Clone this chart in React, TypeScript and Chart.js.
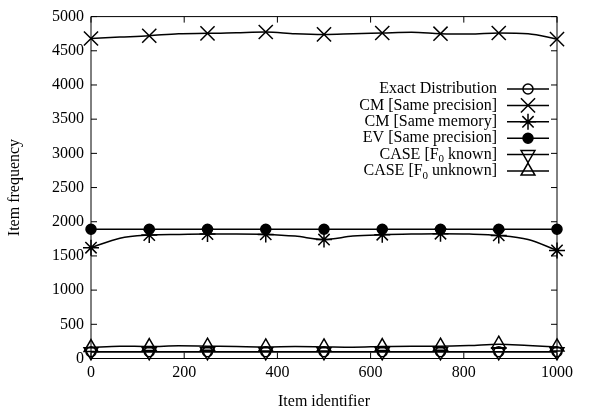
import React, { useEffect, useRef } from 'react';
import { Chart, registerables } from 'chart.js';
import { drawPoint } from 'chart.js/helpers';

Chart.register(...registerables);

// ---- data ----
const itemIds = [0, 62, 125, 188, 250, 312, 375, 438, 500, 562, 625, 688, 750, 812, 875, 938, 1000];
const exactDistribution = [100, 100, 100, 100, 100, 100, 100, 100, 100, 100, 100, 100, 100, 100, 100, 100, 100];
const cmSamePrecision = [4680, 4700, 4720, 4750, 4755, 4765, 4775, 4750, 4740, 4750, 4760, 4770, 4750, 4745, 4760, 4750, 4670];
const cmSameMemory = [1620, 1760, 1805, 1815, 1820, 1820, 1815, 1790, 1740, 1790, 1810, 1820, 1825, 1820, 1800, 1740, 1580];
const evSamePrecision = [1890, 1890, 1890, 1890, 1890, 1890, 1890, 1890, 1890, 1890, 1890, 1890, 1890, 1890, 1890, 1890, 1890];
const caseF0Known = [98, 98, 98, 98, 98, 98, 98, 98, 98, 98, 98, 98, 98, 98, 98, 98, 98];
const caseF0Unknown = [160, 180, 175, 185, 180, 175, 170, 175, 170, 165, 175, 180, 180, 190, 210, 190, 170];
const xTickValues = [0, 200, 400, 600, 800, 1000];
const yTickValues = [0, 500, 1000, 1500, 2000, 2500, 3000, 3500, 4000, 4500, 5000];
const xTitle = 'Item identifier';
const yTitle = 'Item frequency';

const FONT = "'Liberation Serif', 'Times New Roman', serif";

type Series = {
  label: string[]; // [before subscript, subscript, after subscript]
  data: number[];
  pointStyle: string;
  rotation: number;
  radius: number;
  filled: boolean;
};

const series: Series[] = [
  { label: ['Exact Distribution', '', ''], data: exactDistribution, pointStyle: 'circle', rotation: 0, radius: 5, filled: false },
  { label: ['CM [Same precision]', '', ''], data: cmSamePrecision, pointStyle: 'crossRot', rotation: 0, radius: 10, filled: false },
  { label: ['CM [Same memory]', '', ''], data: cmSameMemory, pointStyle: 'star', rotation: 0, radius: 8, filled: false },
  { label: ['EV [Same precision]', '', ''], data: evSamePrecision, pointStyle: 'circle', rotation: 0, radius: 5, filled: true },
  { label: ['CASE [F', '0', ' known]'], data: caseF0Known, pointStyle: 'triangle', rotation: 180, radius: 8, filled: false },
  { label: ['CASE [F', '0', ' unknown]'], data: caseF0Unknown, pointStyle: 'triangle', rotation: 0, radius: 8, filled: false },
];

const frame = {
  id: 'gnuplotFrame',
  afterDatasetsDraw(chart: any) {
    const { ctx, chartArea } = chart;
    const { left, right, top, bottom } = chartArea;
    const xs = chart.scales.x;
    const ys = chart.scales.y;
    const tl = 6;
    ctx.save();
    ctx.strokeStyle = '#000';
    ctx.lineWidth = 1;
    ctx.beginPath();
    ctx.rect(left, top, right - left, bottom - top);
    for (const v of yTickValues) {
      const y = ys.getPixelForValue(v);
      ctx.moveTo(left, y); ctx.lineTo(left + tl, y);
      ctx.moveTo(right, y); ctx.lineTo(right - tl, y);
    }
    for (const v of xTickValues) {
      const x = xs.getPixelForValue(v);
      ctx.moveTo(x, bottom); ctx.lineTo(x, bottom - tl);
      ctx.moveTo(x, top); ctx.lineTo(x, top + tl);
    }
    ctx.stroke();

    // legend
    const textRight = 497;
    const lx1 = 507;
    const lx2 = 549;
    const y0 = 89;
    const dy = 16.4;
    ctx.textBaseline = 'middle';
    ctx.fillStyle = '#000';
    series.forEach((s, i) => {
      const y = y0 + i * dy;
      const mainFont = `16px ${FONT}`;
      const subFont = `11px ${FONT}`;
      ctx.font = mainFont;
      const w0 = ctx.measureText(s.label[0]).width;
      const w2 = ctx.measureText(s.label[2]).width;
      ctx.font = subFont;
      const w1 = ctx.measureText(s.label[1]).width;
      let x = textRight - (w0 + w1 + w2);
      ctx.textAlign = 'left';
      ctx.font = mainFont;
      ctx.fillText(s.label[0], x, y);
      x += w0;
      if (s.label[1]) {
        ctx.font = subFont;
        ctx.fillText(s.label[1], x, y + 5);
        x += w1;
        ctx.font = mainFont;
        ctx.fillText(s.label[2], x, y);
      }
      ctx.beginPath();
      ctx.lineWidth = 1.5;
      ctx.moveTo(lx1, y); ctx.lineTo(lx2, y);
      ctx.stroke();
      ctx.lineWidth = 1.5;
      ctx.fillStyle = s.filled ? '#000' : 'rgba(0,0,0,0)';
      drawPoint(ctx, { pointStyle: s.pointStyle, rotation: s.rotation, radius: s.radius, borderWidth: 1.5 } as any, (lx1 + lx2) / 2, y);
      ctx.fillStyle = '#000';
    });
    ctx.restore();
  },
};

export default function App() {
  const ref = useRef<HTMLCanvasElement>(null);
  useEffect(() => {
    if (!ref.current) return;
    const chart = new Chart(ref.current, {
      type: 'line',
      data: {
        datasets: series.map((s) => ({
          label: s.label.join(''),
          data: itemIds.map((x, i) => ({ x, y: s.data[i] })),
          borderColor: '#000',
          borderWidth: 1.5,
          backgroundColor: s.filled ? '#000' : 'rgba(0,0,0,0)',
          pointBackgroundColor: s.filled ? '#000' : 'rgba(0,0,0,0)',
          pointBorderColor: '#000',
          pointBorderWidth: 1.5,
          pointStyle: s.pointStyle as any,
          pointRotation: s.rotation,
          pointRadius: (c: any) => (c.dataIndex % 2 === 0 ? s.radius : 0),
          pointHoverRadius: 0,
          cubicInterpolationMode: 'monotone' as const,
          fill: false,
          clip: false as any,
        })),
      },
      options: {
        responsive: false,
        animation: false,
        layout: { padding: { top: 11.5, right: 37, left: 0, bottom: 0 } },
        plugins: { legend: { display: false }, tooltip: { enabled: false } },
        scales: {
          x: {
            type: 'linear',
            min: 0,
            max: 1000,
            afterBuildTicks: (sc: any) => { sc.ticks = xTickValues.map((v) => ({ value: v })); },
            afterFit: (sc: any) => { sc.height = 57.5; },
            grid: { display: false, drawTicks: false },
            border: { display: false },
            ticks: {
              color: '#000',
              font: { family: FONT, size: 16 },
              padding: 5,
              maxRotation: 0,
              callback: (v: any) => String(v),
            },
            title: {
              display: true,
              text: xTitle,
              color: '#000',
              font: { family: FONT, size: 16 },
              padding: { top: 0, bottom: 5 },
            },
          },
          y: {
            type: 'linear',
            min: 0,
            max: 5000,
            afterBuildTicks: (sc: any) => { sc.ticks = yTickValues.map((v) => ({ value: v })); },
            afterFit: (sc: any) => { sc.width = 91; },
            grid: { display: false, drawTicks: false },
            border: { display: false },
            ticks: {
              color: '#000',
              font: { family: FONT, size: 16 },
              padding: 7,
              callback: (v: any) => String(v),
            },
            title: {
              display: true,
              text: yTitle,
              color: '#000',
              font: { family: FONT, size: 16 },
              padding: { top: 5, bottom: 0 },
            },
          },
        },
      },
      plugins: [frame],
    });
    return () => chart.destroy();
  }, []);
  return (
    <div style={{ position: 'absolute', left: 0, top: 0, width: 594, height: 416, background: '#fff' }}>
      <canvas ref={ref} width={594} height={416} />
    </div>
  );
}
